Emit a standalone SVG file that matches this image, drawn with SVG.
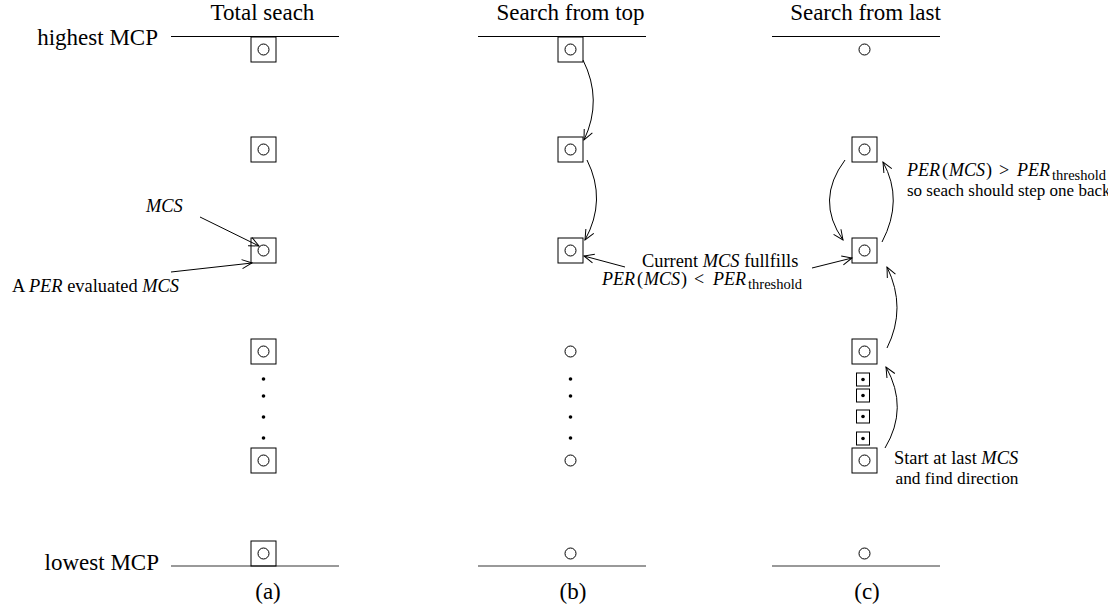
<svg xmlns="http://www.w3.org/2000/svg" width="1108" height="613" viewBox="0 0 1108 613" font-family="'Liberation Serif', 'DejaVu Serif', serif">
<style>
text, tspan{font-family:'Liberation Serif','DejaVu Serif',serif}
text{fill:#000}
.t{font-size:23px}
.l{font-size:18.4px}
.m{font-size:18px}
.i{font-style:italic}
.sub{font-size:14.5px}
.box{fill:none;stroke:#000;stroke-width:1}
.c{fill:none;stroke:#000;stroke-width:1}
.d{fill:#000}
.top{stroke:#000;stroke-width:1.2}
.bot{stroke:#777;stroke-width:1.6}
.a{fill:none;stroke:#000;stroke-width:1;marker-end:url(#ah)}
</style>
<defs>
<marker id="ah" markerUnits="userSpaceOnUse" viewBox="-12 -7 14 14" refX="0" refY="0" markerWidth="14" markerHeight="14" orient="auto">
<path d="M-10,-4.5 L0,0 L-10,4.5" fill="none" stroke="#000" stroke-width="1"/>
</marker>
</defs>
<rect width="1108" height="613" fill="#fff"/>

<g id="axes">
<line class="top" x1="171" y1="36.5" x2="339" y2="36.5"/>
<line class="top" x1="478" y1="36.5" x2="646" y2="36.5"/>
<line class="top" x1="772" y1="36.5" x2="940" y2="36.5"/>
<line class="bot" x1="171" y1="566" x2="339" y2="566"/>
<line class="bot" x1="478" y1="566" x2="646" y2="566"/>
<line class="bot" x1="772" y1="566" x2="940" y2="566"/>
<text class="t" x="158" y="45" text-anchor="end">highest MCP</text>
<text class="t" x="159" y="570" text-anchor="end">lowest MCP</text>
<text class="t" x="262.5" y="20" text-anchor="middle">Total seach</text>
<text class="t" x="570.5" y="20" text-anchor="middle">Search from top</text>
<text class="t" x="865.5" y="20" text-anchor="middle">Search from last</text>
<text class="t" x="268" y="599" text-anchor="middle">(a)</text>
<text class="t" x="573" y="599" text-anchor="middle">(b)</text>
<text class="t" x="867" y="599" text-anchor="middle">(c)</text>
</g>

<g id="colA">
<rect class="box" x="251" y="37" width="25" height="25"/><circle class="c" cx="263.5" cy="49.5" r="5.5"/>
<rect class="box" x="251" y="137" width="25" height="25"/><circle class="c" cx="263.5" cy="149.5" r="5.5"/>
<rect class="box" x="251" y="238" width="25" height="25"/><circle class="c" cx="263.5" cy="250.5" r="5.5"/>
<rect class="box" x="251" y="339" width="25" height="25"/><circle class="c" cx="263.5" cy="351.5" r="5.5"/>
<circle class="d" cx="263.5" cy="379" r="1.8"/><circle class="d" cx="263.5" cy="396" r="1.8"/>
<circle class="d" cx="263.5" cy="417" r="1.8"/><circle class="d" cx="263.5" cy="438" r="1.8"/>
<rect class="box" x="251" y="448" width="25" height="25"/><circle class="c" cx="263.5" cy="460.5" r="5.5"/>
<rect class="box" x="251" y="541" width="25" height="25"/><circle class="c" cx="263.5" cy="553.5" r="5.5"/>
<text class="l i" x="146" y="212">MCS</text>
<text class="l" x="12" y="292">A <tspan class="i">PER</tspan> evaluated <tspan class="i">MCS</tspan></text>
</g>

<g id="colB">
<rect class="box" x="558" y="37" width="25" height="25"/><circle class="c" cx="570.5" cy="49.5" r="5.5"/>
<rect class="box" x="558" y="137" width="25" height="25"/><circle class="c" cx="570.5" cy="149.5" r="5.5"/>
<rect class="box" x="558" y="238" width="25" height="25"/><circle class="c" cx="570.5" cy="250.5" r="5.5"/>
<circle class="c" cx="570.5" cy="351.5" r="5.5"/>
<circle class="d" cx="570.5" cy="379" r="1.8"/><circle class="d" cx="570.5" cy="396" r="1.8"/>
<circle class="d" cx="570.5" cy="417" r="1.8"/><circle class="d" cx="570.5" cy="438" r="1.8"/>
<circle class="c" cx="570.5" cy="460.5" r="5.5"/>
<circle class="c" cx="570.5" cy="553.5" r="5.5"/>
<text class="l" x="642" y="267">Current <tspan class="i">MCS</tspan> fullfills</text>
<text class="m"><tspan class="i" x="602" y="285">PER</tspan><tspan x="637" y="285">(</tspan><tspan class="i" x="644" y="285">MCS</tspan><tspan x="681" y="285">)</tspan><tspan x="694" y="285">&lt;</tspan><tspan class="i" x="713" y="285">PER</tspan><tspan class="sub" x="748" y="289" textLength="54">threshold</tspan></text>
</g>

<g id="colC">
<circle class="c" cx="864.5" cy="49.5" r="5.5"/>
<rect class="box" x="852" y="137" width="25" height="25"/><circle class="c" cx="864.5" cy="149.5" r="5.5"/>
<rect class="box" x="852" y="238" width="25" height="25"/><circle class="c" cx="864.5" cy="250.5" r="5.5"/>
<rect class="box" x="852" y="339" width="25" height="25"/><circle class="c" cx="864.5" cy="351.5" r="5.5"/>
<rect class="box" x="856.5" y="373" width="13" height="13"/><circle class="d" cx="863" cy="379.5" r="1.8"/>
<rect class="box" x="856.5" y="389" width="13" height="13"/><circle class="d" cx="863" cy="395.5" r="1.8"/>
<rect class="box" x="856.5" y="410" width="13" height="13"/><circle class="d" cx="863" cy="416.5" r="1.8"/>
<rect class="box" x="856.5" y="432" width="13" height="13"/><circle class="d" cx="863" cy="438.5" r="1.8"/>
<rect class="box" x="852" y="448" width="25" height="25"/><circle class="c" cx="864.5" cy="460.5" r="5.5"/>
<circle class="c" cx="864.5" cy="553.5" r="5.5"/>
<text class="m"><tspan class="i" x="907" y="176">PER</tspan><tspan x="942" y="176">(</tspan><tspan class="i" x="949" y="176">MCS</tspan><tspan x="986" y="176">)</tspan><tspan x="999" y="176">&gt;</tspan><tspan class="i" x="1017" y="176">PER</tspan><tspan class="sub" x="1052" y="180" textLength="54">threshold</tspan></text>
<text style="font-size:17px" x="907" y="196">so seach should step one back</text>
<text class="l" x="894" y="464">Start at last <tspan class="i">MCS</tspan></text>
<text style="font-size:17.3px" x="957" y="484" text-anchor="middle">and find direction</text>
</g>

<g id="connectors">
<line class="a" x1="200" y1="217" x2="259" y2="246"/>
<line class="a" x1="171" y1="272" x2="252" y2="263"/>
<path class="a" d="M583,60 Q603,100 584,140"/>
<path class="a" d="M587,160 Q607,200 585,240"/>
<line class="a" x1="625" y1="267" x2="584" y2="256"/>
<line class="a" x1="812" y1="268" x2="852" y2="258"/>
<path class="a" d="M845,160 Q815,200 843,240"/>
<path class="a" d="M882,242 Q904,200 883,162"/>
<path class="a" d="M887,348 Q907,308 887,267"/>
<path class="a" d="M885,448 Q909,408 886,367"/>
</g>
</svg>
